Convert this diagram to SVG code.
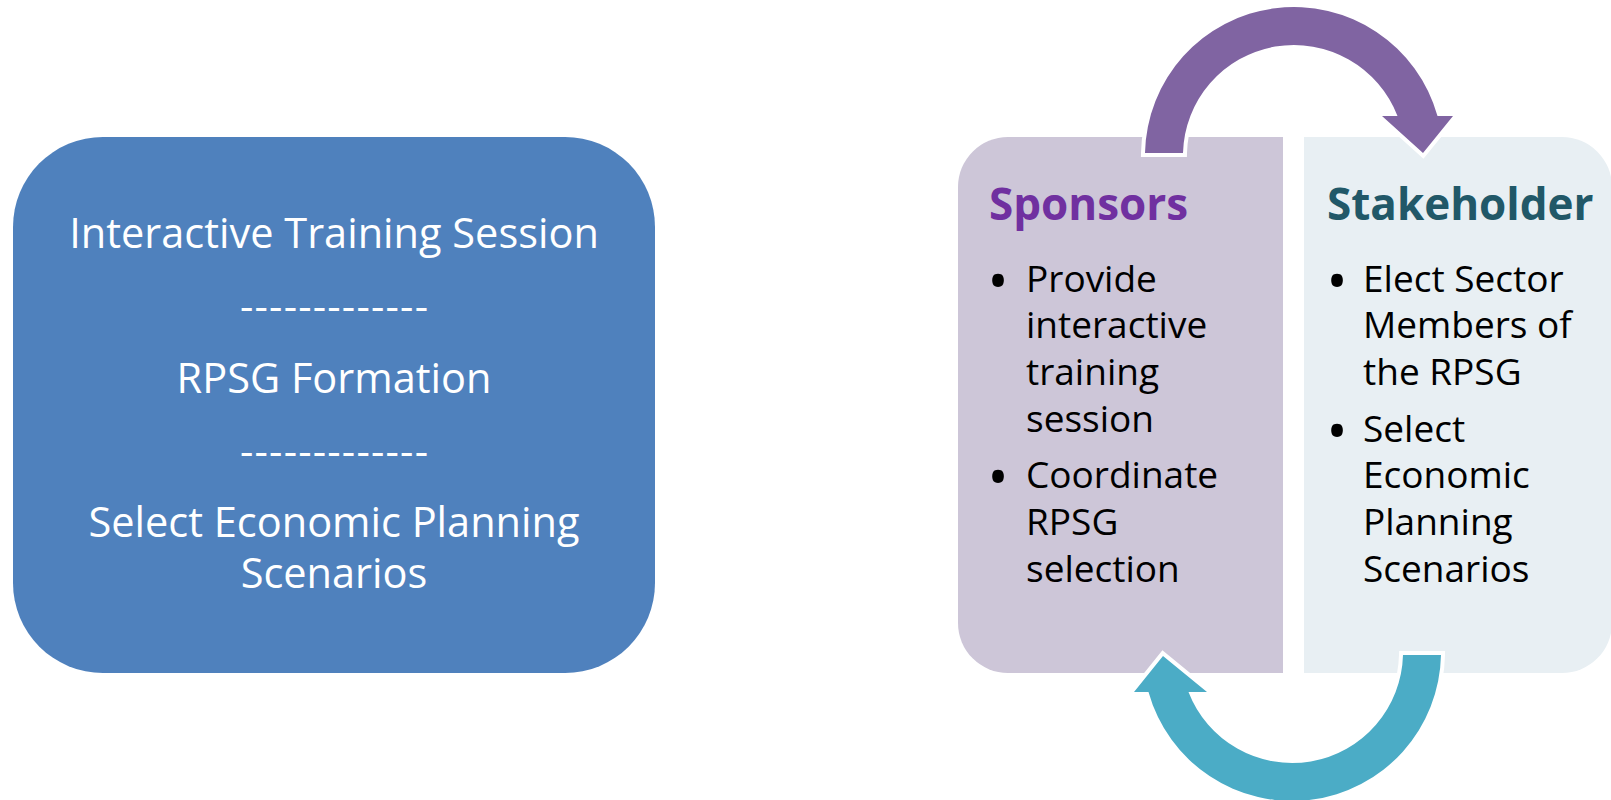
<svg xmlns="http://www.w3.org/2000/svg" width="1611" height="800" viewBox="0 0 1611 800">
  <style>
    .lt { font-family: "Open Sans", "Noto Sans", sans-serif; font-size: 41.5px; fill: #FFFFFF; text-anchor: middle; }
    .hd { font-family: "Open Sans", "Noto Sans", sans-serif; font-size: 44px; font-weight: bold; }
    .bt { font-family: "Open Sans", "Noto Sans", sans-serif; font-size: 37px; fill: #000000; }
    .bl { font-family: "Open Sans", "Noto Sans", sans-serif; font-size: 56px; fill: #000000; text-anchor: middle; }
    .arrow { stroke: #FFFFFF; stroke-width: 8; stroke-linejoin: miter; paint-order: stroke; }
  </style>
  <rect width="1611" height="800" fill="#FFFFFF"/>

  <g id="process-box">
    <rect x="13" y="137" width="642" height="536" rx="90" ry="90" fill="#4F81BD"/>
    <text class="lt" x="334" y="248">Interactive Training Session</text>
    <text class="lt" x="334" y="321" textLength="188" lengthAdjust="spacing">-------------</text>
    <text class="lt" x="334" y="393">RPSG Formation</text>
    <text class="lt" x="334" y="466" textLength="188" lengthAdjust="spacing">-------------</text>
    <text class="lt" x="334" y="537">Select Economic Planning</text>
    <text class="lt" x="334" y="588">Scenarios</text>
  </g>

  <g id="sponsors">
    <path d="M 1008 137 L 1283 137 L 1283 673 L 1008 673 A 50 50 0 0 1 958 623 L 958 187 A 50 50 0 0 1 1008 137 Z" fill="#CDC6D8"/>
    <text class="hd" x="989" y="220" fill="#7030A0">Sponsors</text>
    <text class="bl" x="998" y="301">•</text>
    <text class="bt" x="1026" y="292">Provide</text>
    <text class="bt" x="1026" y="338">interactive</text>
    <text class="bt" x="1026" y="385">training</text>
    <text class="bt" x="1026" y="432">session</text>
    <text class="bl" x="998" y="497">•</text>
    <text class="bt" x="1026" y="488">Coordinate</text>
    <text class="bt" x="1026" y="535">RPSG</text>
    <text class="bt" x="1026" y="582">selection</text>
  </g>

  <g id="stakeholder">
    <path d="M 1304 137 L 1562 137 A 50 50 0 0 1 1612 187 L 1612 623 A 50 50 0 0 1 1562 673 L 1304 673 Z" fill="#E8EFF3"/>
    <text class="hd" x="1327" y="220" fill="#215868">Stakeholder</text>
    <text class="bl" x="1337" y="301">•</text>
    <text class="bt" x="1363" y="292">Elect Sector</text>
    <text class="bt" x="1363" y="338">Members of</text>
    <text class="bt" x="1363" y="385">the RPSG</text>
    <text class="bl" x="1337" y="451">•</text>
    <text class="bt" x="1363" y="442">Select</text>
    <text class="bt" x="1363" y="488">Economic</text>
    <text class="bt" x="1363" y="535">Planning</text>
    <text class="bt" x="1363" y="582">Scenarios</text>
  </g>

  <g id="connectors">
    <path id="arrow-top" class="arrow" fill="#8064A2" d="M 1145 153 A 149 149 0 0 1 1437.5 116 L 1453 116 L 1423 153 L 1382 116 L 1397.5 116 A 111 111 0 0 0 1183 153 Z"/>
    <path id="arrow-bottom" class="arrow" fill="#4BACC6" d="M 1441 655 A 149 149 0 0 1 1148.5 692 L 1134 692 L 1163 656 L 1207 692 L 1188.5 692 A 111 111 0 0 0 1403 655 Z"/>
  </g>
</svg>
